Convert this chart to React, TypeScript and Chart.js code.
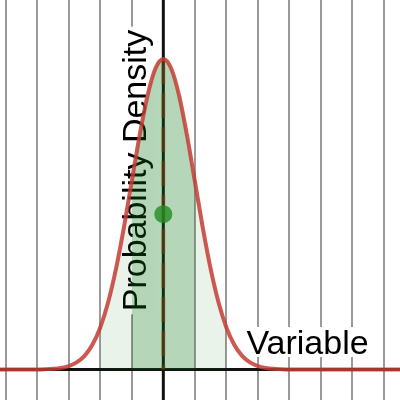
import React, { useEffect, useRef } from "react";
import { Chart, registerables } from "chart.js";

Chart.register(...registerables);

// Curve sample positions (variable) and read densities
const xValues = [
  -5.5, -4.5, -4, -3.75, -3.5, -3.25, -3, -2.75, -2.5, -2.25, -2, -1.75, -1.5, -1.25, -1,
  -0.75, -0.5, -0.25, 0, 0.25, 0.5, 0.75, 1, 1.25, 1.5, 1.75, 2, 2.25, 2.5, 2.75, 3,
  3.25, 3.5, 3.75, 4, 4.5, 7.75,
];
const densityValues = [
  0, 0, 0.0001, 0.0004, 0.0009, 0.002, 0.0044, 0.0091, 0.0175, 0.0317, 0.054, 0.0863, 0.1295,
  0.1826, 0.242, 0.3011, 0.3521, 0.3867, 0.3989, 0.3867, 0.3521, 0.3011, 0.242, 0.1826,
  0.1295, 0.0863, 0.054, 0.0317, 0.0175, 0.0091, 0.0044, 0.002, 0.0009, 0.0004, 0.0001, 0, 0,
];
const outerBand = [-2, 2];
const innerBand = [-1, 1];
const meanValue = 0;
const peakDensity = 0.3989;
const markerDensity = 0.1995;
const xRange = [-5.18, 7.507];
const yRange = [-0.0392, 0.4747];
const xLabel = "Variable";
const yLabel = "Probability Density";

const curvePoints = xValues.map((x, i) => ({ x, y: densityValues[i] }));
const band = (r: number[]) => curvePoints.filter((p) => p.x >= r[0] && p.x <= r[1]);

const FONT = '34px "Liberation Sans", Arial, sans-serif';

const labelPlugin = {
  id: "labels",
  beforeDatasetsDraw(chart: any) {
    const ctx = chart.ctx as CanvasRenderingContext2D;
    ctx.save();
    ctx.font = FONT;
    const pad = 3;
    // "Variable"
    {
      const m = ctx.measureText(xLabel);
      const cx = 307.5;
      const by = 354;
      const left = cx - m.width / 2;
      ctx.fillStyle = "#ffffff";
      ctx.fillRect(
        left - pad,
        by - m.actualBoundingBoxAscent - pad,
        m.width + 2 * pad,
        m.actualBoundingBoxAscent + m.actualBoundingBoxDescent + 2 * pad
      );
      ctx.fillStyle = "#000000";
      ctx.textBaseline = "alphabetic";
      ctx.fillText(xLabel, left, by);
    }
    // "Probability Density" rotated
    {
      ctx.translate(145.5, 170.5);
      ctx.rotate(-Math.PI / 2);
      const m = ctx.measureText(yLabel);
      const left = -m.width / 2;
      ctx.fillStyle = "#ffffff";
      ctx.fillRect(
        left - pad,
        -m.actualBoundingBoxAscent - pad,
        m.width + 2 * pad,
        m.actualBoundingBoxAscent + m.actualBoundingBoxDescent + 2 * pad
      );
      ctx.fillStyle = "#000000";
      ctx.fillText(yLabel, left, 0);
    }
    ctx.restore();
  },
};

export default function App() {
  const ref = useRef<HTMLCanvasElement>(null);
  useEffect(() => {
    if (!ref.current) return;
    const chart = new Chart(ref.current, {
      type: "line",
      data: {
        datasets: [
          {
            label: "curve",
            data: curvePoints,
            borderColor: "rgba(196,60,52,0.85)",
            borderWidth: 4,
            pointRadius: 0,
            cubicInterpolationMode: "monotone",
            fill: false,
            order: 0,
          },
          {
            label: "mean point",
            data: [{ x: meanValue, y: markerDensity }],
            showLine: false,
            pointRadius: 9,
            pointBackgroundColor: "rgba(34,139,34,0.8)",
            pointBorderWidth: 0,
            order: 1,
          },
          {
            label: "mean line",
            data: [
              { x: meanValue, y: peakDensity },
              { x: meanValue, y: 0 },
            ],
            borderColor: "rgba(139,69,19,0.45)",
            borderWidth: 4,
            borderDash: [25, 9],
            pointRadius: 0,
            fill: false,
            order: 2,
          },
          {
            label: "inner",
            data: band(innerBand),
            borderWidth: 0,
            borderColor: "transparent",
            backgroundColor: "rgba(8,118,22,0.23)",
            pointRadius: 0,
            cubicInterpolationMode: "monotone",
            fill: "origin",
            order: 3,
          },
          {
            label: "outer",
            data: band(outerBand),
            borderWidth: 0,
            borderColor: "transparent",
            backgroundColor: "rgba(8,118,22,0.09)",
            pointRadius: 0,
            cubicInterpolationMode: "monotone",
            fill: "origin",
            order: 4,
          },
          {
            label: "x axis",
            data: [
              { x: xRange[0], y: 0 },
              { x: xRange[1], y: 0 },
            ],
            borderColor: "#111111",
            borderWidth: 3,
            pointRadius: 0,
            fill: false,
            order: 5,
          },
          {
            label: "y axis",
            data: [
              { x: meanValue, y: yRange[0] },
              { x: meanValue, y: yRange[1] },
            ],
            borderColor: "#111111",
            borderWidth: 3,
            pointRadius: 0,
            fill: false,
            order: 6,
          },
        ],
      },
      options: {
        animation: false,
        responsive: false,
        maintainAspectRatio: false,
        devicePixelRatio: 1,
        layout: { padding: 0, autoPadding: false },
        plugins: { legend: { display: false }, tooltip: { enabled: false } },
        scales: {
          x: {
            type: "linear",
            min: xRange[0],
            max: xRange[1],
            ticks: { display: false, stepSize: 1, includeBounds: false },
            grid: {
              drawTicks: false,
              lineWidth: 2,
              color: (c: any) => (c.tick && c.tick.value === 0 ? "transparent" : "#9a9a9a"),
            },
            border: { display: false },
          },
          y: {
            type: "linear",
            display: false,
            min: yRange[0],
            max: yRange[1],
          },
        },
      },
      plugins: [labelPlugin],
    } as any);
    return () => chart.destroy();
  }, []);
  return (
    <div style={{ position: "fixed", left: 0, top: 0, width: 400, height: 400, background: "#fff" }}>
      <canvas ref={ref} width={400} height={400} style={{ display: "block" }} />
    </div>
  );
}
